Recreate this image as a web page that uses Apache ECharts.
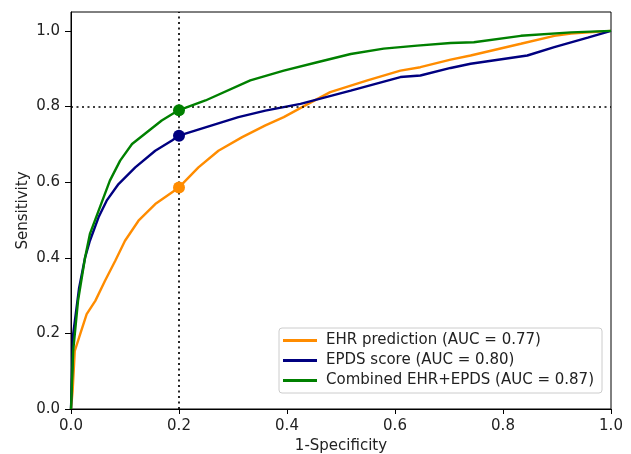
<!DOCTYPE html>
<html>
<head>
<meta charset="utf-8">
<script src="https://cdn.jsdelivr.net/npm/echarts@6/dist/echarts.min.js"></script>
<style>html,body{margin:0;padding:0;background:#fff;}#c{width:631px;height:454px;}</style>
</head>
<body>
<div id="c"></div>
<script>
const seriesNames = ['EHR prediction (AUC = 0.77)', 'EPDS score (AUC = 0.80)', 'Combined EHR+EPDS (AUC = 0.87)'];
const colors = ['#ff8c00', '#000080', '#008000'];

const ehrFpr = [0, 0.003, 0.007, 0.017, 0.029, 0.045, 0.063, 0.082, 0.100, 0.125, 0.156, 0.200, 0.236, 0.273, 0.317, 0.360, 0.394, 0.434, 0.480, 0.549, 0.610, 0.647, 0.703, 0.740, 0.833, 0.895, 0.926, 1.0];
const ehrTpr = [0, 0.048, 0.154, 0.198, 0.251, 0.286, 0.339, 0.392, 0.445, 0.498, 0.542, 0.586, 0.639, 0.683, 0.719, 0.750, 0.772, 0.803, 0.838, 0.869, 0.895, 0.904, 0.924, 0.935, 0.966, 0.987, 0.993, 1.0];

const epdsFpr = [0, 0.004, 0.015, 0.026, 0.035, 0.051, 0.066, 0.088, 0.119, 0.156, 0.187, 0.200, 0.249, 0.310, 0.360, 0.425, 0.518, 0.610, 0.647, 0.703, 0.740, 0.845, 0.895, 0.957, 1.0];
const epdsTpr = [0, 0.198, 0.320, 0.400, 0.445, 0.507, 0.551, 0.595, 0.639, 0.683, 0.710, 0.723, 0.745, 0.772, 0.789, 0.807, 0.842, 0.878, 0.882, 0.902, 0.913, 0.935, 0.957, 0.982, 1.0];

const combFpr = [0, 0.004, 0.013, 0.026, 0.035, 0.051, 0.072, 0.091, 0.113, 0.137, 0.168, 0.199, 0.249, 0.332, 0.394, 0.456, 0.518, 0.579, 0.641, 0.703, 0.746, 0.833, 0.926, 1.0];
const combTpr = [0, 0.154, 0.286, 0.400, 0.463, 0.524, 0.604, 0.657, 0.701, 0.728, 0.763, 0.790, 0.816, 0.869, 0.895, 0.917, 0.939, 0.953, 0.961, 0.968, 0.970, 0.987, 0.996, 1.0];

const opFpr = 0.2;
const opTpr = [0.586, 0.723, 0.790];
const refX = 0.2;
const refY = 0.8;
const xTicks = [0, 0.2, 0.4, 0.6, 0.8, 1.0];
const yTicks = [0, 0.2, 0.4, 0.6, 0.8, 1.0];

const FONT = 'DejaVu Sans';
const zip = (a, b) => a.map((v, i) => [v, b[i]]);
const curves = [zip(ehrFpr, ehrTpr), zip(epdsFpr, epdsTpr), zip(combFpr, combTpr)];

const series = curves.map((d, i) => ({
  name: seriesNames[i], type: 'line', data: d, showSymbol: false, symbol: 'none',
  lineStyle: { color: colors[i], width: 2.4 }, itemStyle: { color: colors[i] },
  z: 3 + i, animation: false
}));
series[0].markLine = {
  silent: true, symbol: ['none', 'none'], label: { show: false },
  lineStyle: { color: '#000', type: [2, 3.5], width: 1.7 },
  data: [{ xAxis: refX }, { yAxis: refY }], animation: false
};
opTpr.forEach((v, i) => series.push({
  name: 'op' + i, type: 'scatter', data: [[opFpr, v]], symbol: 'circle', symbolSize: 12,
  itemStyle: { color: colors[i], opacity: 1 }, z: 10, animation: false
}));

const chart = echarts.init(document.getElementById('c'), null, { renderer: 'canvas' });
chart.setOption({
  animation: false,
  backgroundColor: '#fff',
  grid: { left: 71, right: 20, top: 12, bottom: 45, outerBoundsMode: 'none', containLabel: false,
          show: true, borderColor: '#000', borderWidth: 1, backgroundColor: 'transparent' },
  xAxis: {
    type: 'value', min: 0, max: 1, interval: 0.2,
    name: '1-Specificity', nameLocation: 'middle', nameGap: 30, nameMoveOverlap: false,
    nameTextStyle: { fontFamily: FONT, fontSize: 15, color: '#222' },
    axisLine: { show: true, onZero: false, lineStyle: { color: '#000', width: 1 } },
    axisTick: { show: true, inside: false, length: 5, lineStyle: { color: '#000' }, customValues: xTicks },
    axisLabel: { fontFamily: FONT, fontSize: 15, color: '#222', margin: 10, customValues: xTicks, formatter: v => v.toFixed(1) },
    splitLine: { show: false }
  },
  yAxis: {
    type: 'value', min: 0, max: 1.05, interval: 0.2,
    name: 'Sensitivity', nameLocation: 'middle', nameGap: 40, nameRotate: 90, nameMoveOverlap: false,
    nameTextStyle: { fontFamily: FONT, fontSize: 15, color: '#222' },
    axisLine: { show: true, onZero: false, lineStyle: { color: '#000', width: 1 } },
    axisTick: { show: true, inside: false, length: 6, lineStyle: { color: '#000' }, customValues: yTicks },
    axisLabel: { fontFamily: FONT, fontSize: 15, color: '#222', margin: 11, customValues: yTicks, formatter: v => v.toFixed(1) },
    splitLine: { show: false }
  },
  legend: {
    data: seriesNames, orient: 'vertical', left: 279, top: 328,
    backgroundColor: '#fff', borderColor: '#ccc', borderWidth: 1, borderRadius: 3,
    padding: [5, 8, 5, 4], itemGap: 5, itemWidth: 34, itemHeight: 3, icon: 'rect',
    textStyle: { fontFamily: FONT, fontSize: 15, color: '#222', padding: [0, 0, 0, 4] }
  },
  series: series
});
</script>
</body>
</html>
